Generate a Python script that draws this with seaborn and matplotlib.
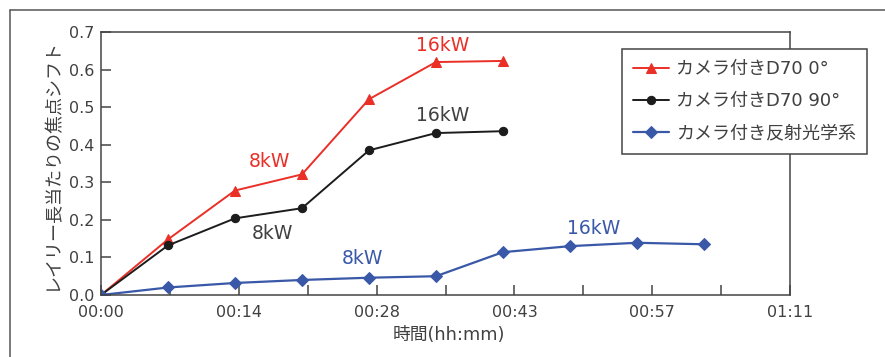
import matplotlib
matplotlib.use("Agg")
import matplotlib.pyplot as plt
from matplotlib.lines import Line2D
import seaborn as sns
import pandas as pd

# ---- data ----
time_min = [0, 7, 14, 21, 28, 35, 42, 49, 56, 63]
d70_0 = [0.0, 0.148, 0.278, 0.321, 0.521, 0.620, 0.623]
d70_90 = [0.0, 0.132, 0.204, 0.231, 0.385, 0.431, 0.436]
refl = [0.0, 0.020, 0.032, 0.040, 0.046, 0.050, 0.114, 0.130, 0.139, 0.135]
series_names = ["カメラ付きD70 0°", "カメラ付きD70 90°", "カメラ付き反射光学系"]
x_tick_vals = [0, 14.4, 28.8, 43.2, 57.6, 72]
x_tick_labels = ["00:00", "00:14", "00:28", "00:43", "00:57", "01:11"]
y_ticks = [0.0, 0.1, 0.2, 0.3, 0.4, 0.5, 0.6, 0.7]
ann_texts = ["16kW", "8kW", "16kW", "8kW", "8kW", "16kW"]
ann_x = [35.7, 17.6, 35.7, 17.9, 27.3, 51.5]
ann_y = [0.664, 0.356, 0.478, 0.165, 0.098, 0.178]
xlabel = "時間(hh:mm)"
ylabel = "レイリー長当たりの焦点シフト"

sns.set_theme(style="white")
plt.rcParams["font.family"] = ["DejaVu Sans", "Noto Sans CJK JP"]
plt.rcParams["axes.unicode_minus"] = False

TXT = "#404040"
RED = "#ea2f27"
BLK = "#1c1c1c"
BLU = "#3a58a8"

fig = plt.figure(figsize=(8.85, 3.57), dpi=100)
ax = fig.add_axes([101 / 885, 62 / 357, 689 / 885, 263 / 357])

df0 = pd.DataFrame({"t": time_min[:len(d70_0)], "v": d70_0})
df1 = pd.DataFrame({"t": time_min[:len(d70_90)], "v": d70_90})
df2 = pd.DataFrame({"t": time_min[:len(refl)], "v": refl})

sns.lineplot(data=df0, x="t", y="v", ax=ax, color=RED, marker="^", markersize=6.5,
             markeredgecolor=RED, linewidth=1.4, label=series_names[0])
sns.lineplot(data=df1, x="t", y="v", ax=ax, color=BLK, marker="o", markersize=6,
             markeredgecolor=BLK, linewidth=1.4, label=series_names[1])
sns.lineplot(data=df2, x="t", y="v", ax=ax, color=BLU, marker="D", markersize=6,
             markeredgecolor=BLU, linewidth=1.6, label=series_names[2])

ax.set_xlim(0, 72)
ax.set_ylim(0, 0.7)
ax.set_xticks(x_tick_vals)
ax.set_xticklabels(x_tick_labels)
ax.set_xticks([7.2, 21.6, 36.0, 50.4, 64.8], minor=True)
ax.set_yticks(y_ticks)
ax.set_yticklabels([f"{v:.1f}" for v in y_ticks])
ax.tick_params(axis="both", which="both", direction="in", length=7, width=1.1,
               color="#444444", labelcolor=TXT, labelsize=11.5)
ax.tick_params(axis="x", which="both", bottom=True, pad=7)
ax.tick_params(axis="y", which="both", left=True, pad=5)
for s in ax.spines.values():
    s.set_visible(True)
    s.set_color("#444444")
    s.set_linewidth(1.1)

ax.set_xlabel("")
ax.set_ylabel("")
fig.text(449 / 885, 1 - 335 / 357, xlabel, ha="center", va="center", fontsize=12.8, color=TXT)
fig.text(52 / 885, 1 - 164 / 357, ylabel, ha="center", va="center", rotation=90,
         fontsize=13, color=TXT)

ann_colors = [RED, RED, TXT, TXT, BLU, BLU]
for t, x, y, c in zip(ann_texts, ann_x, ann_y, ann_colors):
    ax.text(x, y, t, color=c, fontsize=13.5, ha="center", va="center")

leg = ax.legend(loc="upper left", bbox_to_anchor=(622 / 885, 1 - 49 / 357),
                bbox_transform=fig.transFigure, borderaxespad=0, fontsize=13,
                frameon=True, fancybox=False, edgecolor="#444444", handlelength=2.0,
                labelspacing=0.8, borderpad=0.6, handletextpad=0.4, framealpha=1)
leg.get_frame().set_linewidth(1.1)
for txt in leg.get_texts():
    txt.set_color(TXT)

# outer frame (cropped)
fig.add_artist(Line2D([9.5 / 885, 9.5 / 885], [0, 1 - 9.5 / 357], transform=fig.transFigure,
                      color="#555555", linewidth=1.1))
fig.add_artist(Line2D([9.5 / 885, 1], [1 - 9.5 / 357, 1 - 9.5 / 357], transform=fig.transFigure,
                      color="#555555", linewidth=1.1))

fig.savefig("out.png", dpi=100)
